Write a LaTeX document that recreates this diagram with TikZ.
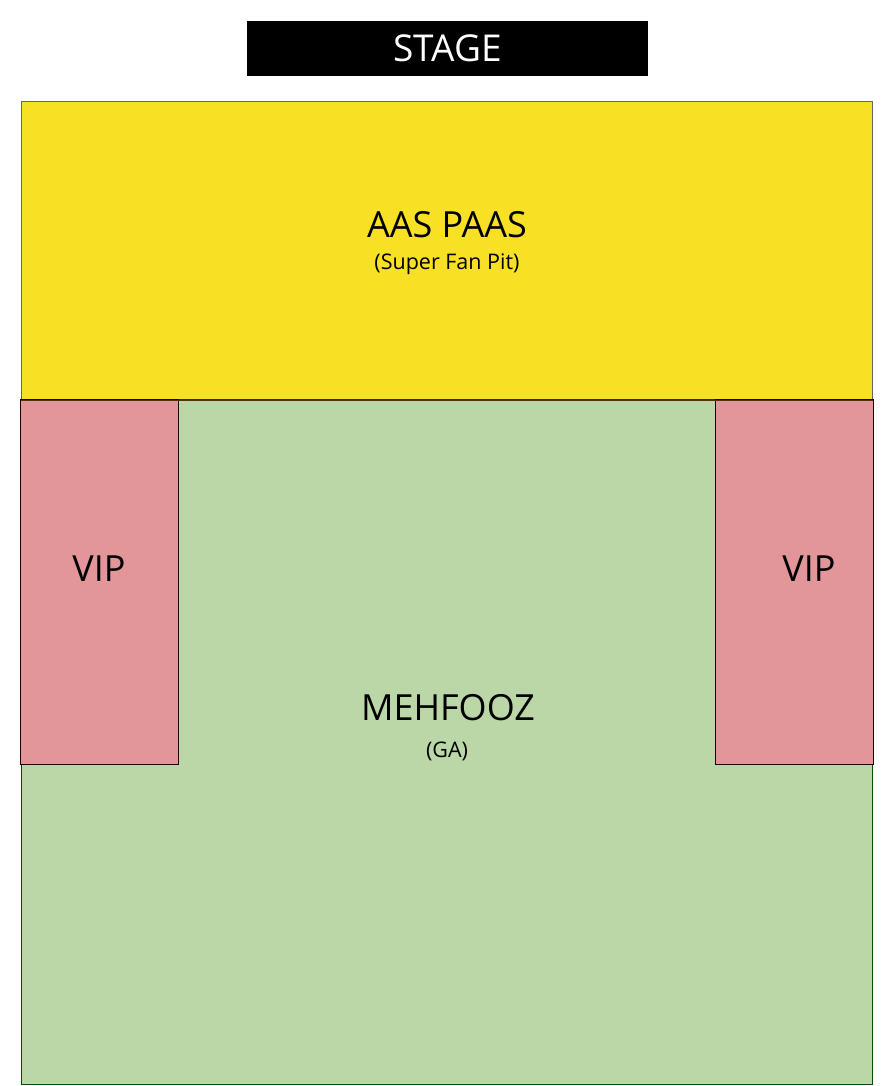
\documentclass[tikz,border=0pt]{standalone}
\usepackage{fontspec}
\setmainfont{Open Sans}
\usetikzlibrary{positioning}

\definecolor{pityellow}{HTML}{F8E024}
\definecolor{gagreen}{HTML}{BBD7A8}
\definecolor{vippink}{HTML}{E39699}

\begin{document}
\begin{tikzpicture}[
      x=1pt, y=-1pt,
      zone/.style={rectangle, draw, line width=1pt, inner sep=0pt, anchor=north west},
      big/.style={font=\fontsize{36}{40}\selectfont, inner sep=0pt},
      small/.style={font=\fontsize{21.5}{24}\selectfont, inner sep=0pt}
    ]
    \useasboundingbox (0,0) rectangle (894,1086);

    \node[zone, fill=black, draw=black, minimum width=400pt, minimum height=54pt] (stage) at (247,21) {};
    \node[text=white, font=\fontsize{37}{40}\selectfont, inner sep=0pt] (stagelbl) at (stage.center) {STAGE};

    \node[zone, fill=pityellow, draw=black!60, minimum width=851pt, minimum height=298pt] (pit) at (21,101) {};
    \node[zone, fill=gagreen, draw=black!70!green, minimum width=851pt, minimum height=685pt] (ga) at (21,399) {};
    \node[zone, fill=vippink, draw=black!85!red, minimum width=158pt, minimum height=365pt] (vipl) at (20,399) {};
    \node[zone, fill=vippink, draw=black!85!red, minimum width=158pt, minimum height=365pt] (vipr) at (715,399) {};
    \draw[line width=1pt, draw=black!60!brown] (pit.south west) -- (pit.south east);

    \node[big] (pitlbl) at (447,225) {AAS PAAS};
    \node[small] (pitsub) at (447,264) {(Super Fan Pit)};
    \node[big] (vipllbl) at (99,569) {VIP};
    \node[big] (viprlbl) at (809,569) {VIP};
    \node[big] (galbl) at (448,708) {MEHFOOZ};
    \node[small] (gasub) at (447,751) {(GA)};
  \end{tikzpicture}
\end{document}
